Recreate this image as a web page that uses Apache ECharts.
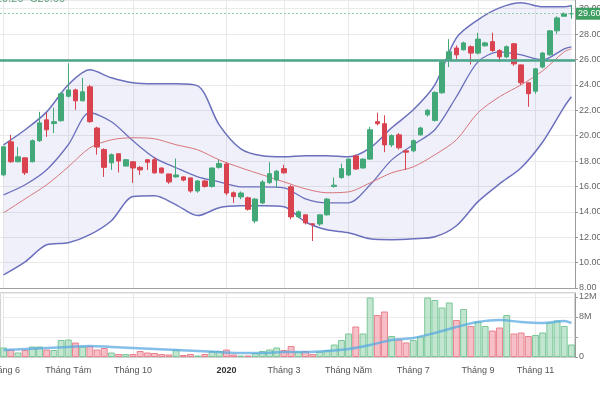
<!DOCTYPE html>
<html><head><meta charset="utf-8">
<script src="https://cdn.jsdelivr.net/npm/echarts@6/dist/echarts.min.js"></script>
<style>html,body{margin:0;padding:0;background:#fff}#c{width:600px;height:400px}</style>
</head><body><div id="c"></div>
<script>
// weekly categories (week start)
const weeks = ['2019-06-03','2019-06-10','2019-06-17','2019-06-24','2019-07-01','2019-07-08','2019-07-15','2019-07-22','2019-07-29','2019-08-05',
'2019-08-12','2019-08-19','2019-08-26','2019-09-02','2019-09-09','2019-09-16','2019-09-23','2019-09-30','2019-10-07','2019-10-14',
'2019-10-21','2019-10-28','2019-11-04','2019-11-11','2019-11-18','2019-11-25','2019-12-02','2019-12-09','2019-12-16','2019-12-23',
'2019-12-30','2020-01-06','2020-01-13','2020-01-20','2020-01-27','2020-02-03','2020-02-10','2020-02-17','2020-02-24','2020-03-02',
'2020-03-09','2020-03-16','2020-03-23','2020-03-30','2020-04-06','2020-04-13','2020-04-20','2020-04-27','2020-05-04','2020-05-11',
'2020-05-18','2020-05-25','2020-06-01','2020-06-08','2020-06-15','2020-06-22','2020-06-29','2020-07-06','2020-07-13','2020-07-20',
'2020-07-27','2020-08-03','2020-08-10','2020-08-17','2020-08-24','2020-08-31','2020-09-07','2020-09-14','2020-09-21','2020-09-28',
'2020-10-05','2020-10-12','2020-10-19','2020-10-26','2020-11-02','2020-11-09','2020-11-16','2020-11-23','2020-11-30','2020-12-07'];

const opens  = [16.91,19.51,17.94,18.25,17.94,19.6,21.24,20.95,21.17,23.1, 23.6,22.74,23.84,20.6,18.9,17.86,18.57,17.6,17.94,17.5,
 18.1,18.1,17.45,16.98,16.75,16.75,16.67,15.64,16.43,16.0, 17.5,17.76,15.5,15.17,15.1,13.28,14.7,16.3,16.5,17.4,
 15.97,13.6,13.76,13.05,13.04,13.76,16.0,16.7,16.9,18.4, 17.45,18.15,21.1,20.94,19.27,20.06,18.8,18.8,20.06,21.64,
 21.2,23.37,25.97,26.9,26.76,27.0,26.5,27.07,27.4,26.7, 26.2,27.23,25.57,24.16,23.5,25.4,26.36,28.25,29.4,29.6];
const closes = [19.12,17.94,18.33,17.07,19.6,21.0,20.46,21.1,23.3,23.6, 22.74,23.45,21.1,19.1,17.5,18.5,18.0,18.1,17.45,17.3,
 17.9,17.07,17.07,16.35,16.9,16.5,15.64,16.43,16.0,17.45, 17.8,15.48,15.2,15.48,14.2,15.0,16.35,17.0,17.2,17.07,
 13.6,14.0,13.13,13.0,13.76,15.0,16.1,17.4,18.15,17.37, 18.15,20.46,20.94,19.27,20.0,19.04,18.7,19.6,20.6,22.0,
 23.4,25.8,26.6,26.36,27.3,26.5,27.6,27.3,26.7,26.2, 27.0,25.65,24.16,23.3,25.26,26.5,28.25,29.27,29.6,29.6];
const lows   = [16.8,17.86,17.9,16.9,17.9,19.5,19.9,20.2,21.1,23.0, 22.03,22.7,21.0,18.5,16.75,17.3,17.1,17.6,16.28,16.9,
 17.3,17.0,17.0,16.2,16.7,16.4,15.5,15.5,15.9,15.9, 17.4,15.3,14.7,15.0,14.1,13.1,14.6,16.2,15.9,17.0,
 13.4,13.5,13.0,11.7,12.9,13.7,15.9,16.6,16.8,17.3, 17.4,18.1,20.8,18.7,19.1,18.9,17.3,18.7,20.0,21.5,
 21.1,23.3,25.4,26.0,26.7,25.6,26.4,27.0,26.6,25.8, 26.1,25.5,24.0,22.27,23.3,25.3,26.3,28.0,29.4,29.2];
const highs  = [19.2,20.06,19.1,18.3,19.7,21.87,21.8,22.2,23.4,25.7, 23.7,24.55,24.0,20.7,19.0,18.6,18.6,18.15,18.0,17.6,
 18.15,18.3,17.5,17.0,18.2,16.8,16.7,16.5,16.5,17.5, 18.1,17.9,15.6,15.6,15.2,15.1,16.5,17.9,17.3,17.7,
 16.1,14.1,13.8,13.1,13.8,15.1,16.7,17.8,18.2,18.5, 18.2,20.7,21.8,21.6,20.1,20.2,18.9,19.7,20.7,22.1,
 23.5,25.9,27.6,27.1,27.4,27.1,28.1,27.4,28.1,26.8, 27.1,27.3,25.6,24.2,25.3,26.6,28.3,29.4,29.7,30.3];
// volume in millions
const volumes = [1.9,1.5,0.9,1.4,2.1,2.1,1.5,1.4,3.4,3.5, 2.9,2.1,2.2,1.5,1.8,0.9,0.6,0.6,0.6,1.2,
 0.9,0.8,0.6,0.5,1.5,0.4,0.6,0.3,0.6,1.2, 1.2,1.5,0.5,0.3,0.3,0.8,1.2,1.5,1.9,1.4,
 2.2,1.1,1.2,0.6,1.1,1.4,2.5,3.4,4.7,6.1, 4.7,11.9,8.4,9.1,4.2,3.5,2.9,3.4,4.1,11.9,
 11.4,9.9,10.9,7.4,9.6,6.2,7.1,6.2,5.3,5.9, 8.4,4.7,4.9,4.2,4.4,4.9,6.9,7.3,6.2,2.5];

// indicator lines read at these week indices
const lineIdx   = [0,3,6,9,12,15,18,21,24,27,30,33,36,39,42,45,48,51,54,57,60,63,66,69,72,75,78,79];
const upperBand = [19.28,20.46,21.87,24.0,25.18,24.55,24.16,24.08,24.08,23.92,20.85,18.96,18.41,18.33,18.41,18.41,18.33,19.04,20.62,22.03,24.0,27.7,29.12,30.06,30.46,30.14,30.14,30.22];
const lowerBand = [9.04,10.06,11.4,11.56,12.2,13.3,15.2,15.26,14.55,13.7,14.32,14.47,14.47,14.39,13.2,12.58,12.35,11.87,11.8,11.87,12.03,12.9,14.8,16.2,17.47,19.5,22.27,23.06];
const midLine   = [15.34,16.13,17.31,19.28,21.8,21.09,19.59,18.25,17.47,16.76,16.36,15.97,15.97,15.89,15.02,14.71,14.71,16.13,18.09,19.28,20.46,23.06,25.81,26.6,26.36,25.97,26.83,26.99];
const slowLine  = [13.92,15.02,16.13,17.54,19.04,19.67,19.83,19.75,19.28,18.88,18.09,17.47,16.91,16.36,15.81,15.5,15.57,16.28,17.07,17.54,18.49,19.67,21.8,23.06,24.0,25.1,26.6,26.83];
const volMA     = [1.4,1.6,1.8,2.0,2.2,2.0,1.8,1.6,1.4,1.2,1.0,0.8,0.8,1.0,1.0,1.2,1.6,2.4,3.4,3.8,4.8,6.0,7.0,7.4,7.0,6.8,7.2,6.8];

const tickIdx  = [0,9,18,31,39,48,57,66,74];
const tickText = ['Tháng 6','Tháng Tám','Tháng 10','2020','Tháng 3','Tháng Năm','Tháng 7','Tháng 9','Tháng 11'];
const resistance = 25.9;
const lastPrice = 29.6;
const legendText = '29.20  C29.60';

const UP = '#43a878', DOWN = '#d9434f';
const BANDLINE = '#6b70bd';
const FONT = 'Liberation Sans, Arial, sans-serif';
const isTick = (i) => tickIdx.indexOf(i) >= 0;
const pts = (arr) => lineIdx.map((i, k) => [weeks[i], arr[k]]);

const candleData = weeks.map((w, i) => [opens[i], closes[i], lows[i], highs[i]]);
const volData = volumes.map((v, i) => {
  const up = closes[i] >= opens[i];
  return {value: v, itemStyle: {
    color: up ? 'rgba(120,200,150,0.45)' : 'rgba(240,130,145,0.5)',
    borderColor: up ? '#7cc79a' : '#e8828e', borderWidth: 1}};
});

const chart = echarts.init(document.getElementById('c'), null, {renderer: 'canvas'});
chart.setOption({
  animation: false,
  backgroundColor: '#fff',
  textStyle: {fontFamily: FONT},
  title: {text: legendText, left: -4, top: -7, padding: 0,
    textStyle: {fontSize: 11, fontWeight: 'normal', color: '#5a9e7c', fontFamily: FONT}},
  grid: [
    {left: 0, right: 25, top: 0, height: 288, containLabel: false, outerBoundsMode: 'none'},
    {left: 0, right: 25, top: 293, height: 64, containLabel: false, outerBoundsMode: 'none',
     show: true, borderColor: '#a8a8a8', borderWidth: 1, backgroundColor: 'transparent'}
  ],
  xAxis: [
    {type: 'category', gridIndex: 0, data: weeks, boundaryGap: true,
     axisLabel: {show: false}, axisTick: {show: false},
     axisLine: {show: true, onZero: false, lineStyle: {color: '#a0a0a0'}},
     splitLine: {show: true, alignWithLabel: true, interval: (i) => isTick(i), lineStyle: {color: '#e9e9e9'}}},
    {type: 'category', gridIndex: 1, data: weeks, boundaryGap: true,
     axisLine: {show: true, onZero: false, lineStyle: {color: '#cfcfcf'}},
     axisTick: {show: false},
     axisLabel: {interval: (i) => isTick(i), margin: 9, fontSize: 9, color: '#555', hideOverlap: false,
       formatter: (val, i) => { const k = tickIdx.indexOf(i); if (k < 0) return ''; const t = tickText[k]; return /^\d{4}$/.test(t) ? '{b|' + t + '}' : t; },
       rich: {b: {fontWeight: 'bold', fontSize: 9, color: '#333'}}},
     splitLine: {show: true, alignWithLabel: true, interval: (i) => isTick(i), lineStyle: {color: '#e9e9e9'}}}
  ],
  yAxis: [
    {type: 'value', gridIndex: 0, position: 'right', min: 8, max: 30.68, interval: 2,
     axisLine: {show: true, onZero: false, lineStyle: {color: '#9a9a9a'}},
     axisTick: {show: true, length: 3, lineStyle: {color: '#9a9a9a'}},
     axisLabel: {formatter: (v) => v.toFixed(2), fontSize: 9, color: '#666', margin: 4, showMaxLabel: false},
     splitLine: {show: true, lineStyle: {color: '#e9e9e9'}}},
    {type: 'value', gridIndex: 1, position: 'right', min: 0, max: 12.8, interval: 4,
     axisLine: {show: true, onZero: false, lineStyle: {color: '#9a9a9a'}},
     axisTick: {show: true, length: 3, lineStyle: {color: '#9a9a9a'}},
     axisLabel: {formatter: (v) => v === 0 ? '0' : (v === 4 ? '' : v + 'M'), fontSize: 9, color: '#666', margin: 4, showMaxLabel: false},
     splitLine: {show: true, lineStyle: {color: '#ececec'}}}
  ],
  series: [
    {type: 'line', name: 'bandBase', xAxisIndex: 0, yAxisIndex: 0, data: pts(lowerBand), stack: 'band',
     symbol: 'none', smooth: 0.3, lineStyle: {opacity: 0}, silent: true, z: 1},
    {type: 'line', name: 'bandFill', xAxisIndex: 0, yAxisIndex: 0,
     data: lineIdx.map((i, k) => [weeks[i], upperBand[k] - lowerBand[k]]), stack: 'band',
     symbol: 'none', smooth: 0.3, lineStyle: {opacity: 0}, areaStyle: {color: 'rgba(125,125,215,0.17)'}, silent: true, z: 1},
    {type: 'line', name: 'upper', xAxisIndex: 0, yAxisIndex: 0, data: pts(upperBand), symbol: 'none', smooth: 0.3,
     lineStyle: {color: BANDLINE, width: 1.5}, z: 2},
    {type: 'line', name: 'lower', xAxisIndex: 0, yAxisIndex: 0, data: pts(lowerBand), symbol: 'none', smooth: 0.3,
     lineStyle: {color: BANDLINE, width: 1.5}, z: 2},
    {type: 'line', name: 'mid', xAxisIndex: 0, yAxisIndex: 0, data: pts(midLine), symbol: 'none', smooth: 0.3,
     lineStyle: {color: BANDLINE, width: 1.3}, z: 2},
    {type: 'line', name: 'slow', xAxisIndex: 0, yAxisIndex: 0, data: pts(slowLine), symbol: 'none', smooth: 0.3,
     lineStyle: {color: '#d8767c', width: 1}, z: 2},
    {type: 'candlestick', name: 'price', xAxisIndex: 0, yAxisIndex: 0, data: candleData, barWidth: 5, z: 4,
     itemStyle: {color: UP, color0: DOWN, borderColor: UP, borderColor0: DOWN, borderWidth: 1},
     markLine: {silent: true, symbol: 'none', animation: false,
       data: [
         {yAxis: resistance, lineStyle: {color: '#4aa58a', width: 2.5, type: 'solid'}, label: {show: false}},
         {yAxis: lastPrice, lineStyle: {color: '#8fd0a6', width: 1, type: [2, 2]},
          label: {show: true, position: 'end', distance: 1, formatter: lastPrice.toFixed(2), fontSize: 9, color: '#fff',
                  backgroundColor: '#3f9f62', padding: [2, 2, 1, 2]}}
       ]}},
    {type: 'bar', name: 'volume', xAxisIndex: 1, yAxisIndex: 1, data: volData, barCategoryGap: '4%', z: 2},
    {type: 'line', name: 'volMA', xAxisIndex: 1, yAxisIndex: 1, data: pts(volMA), symbol: 'none', smooth: 0.3,
     lineStyle: {color: 'rgba(90,170,225,0.75)', width: 2.5}, z: 3}
  ]
});
</script>
</body></html>
